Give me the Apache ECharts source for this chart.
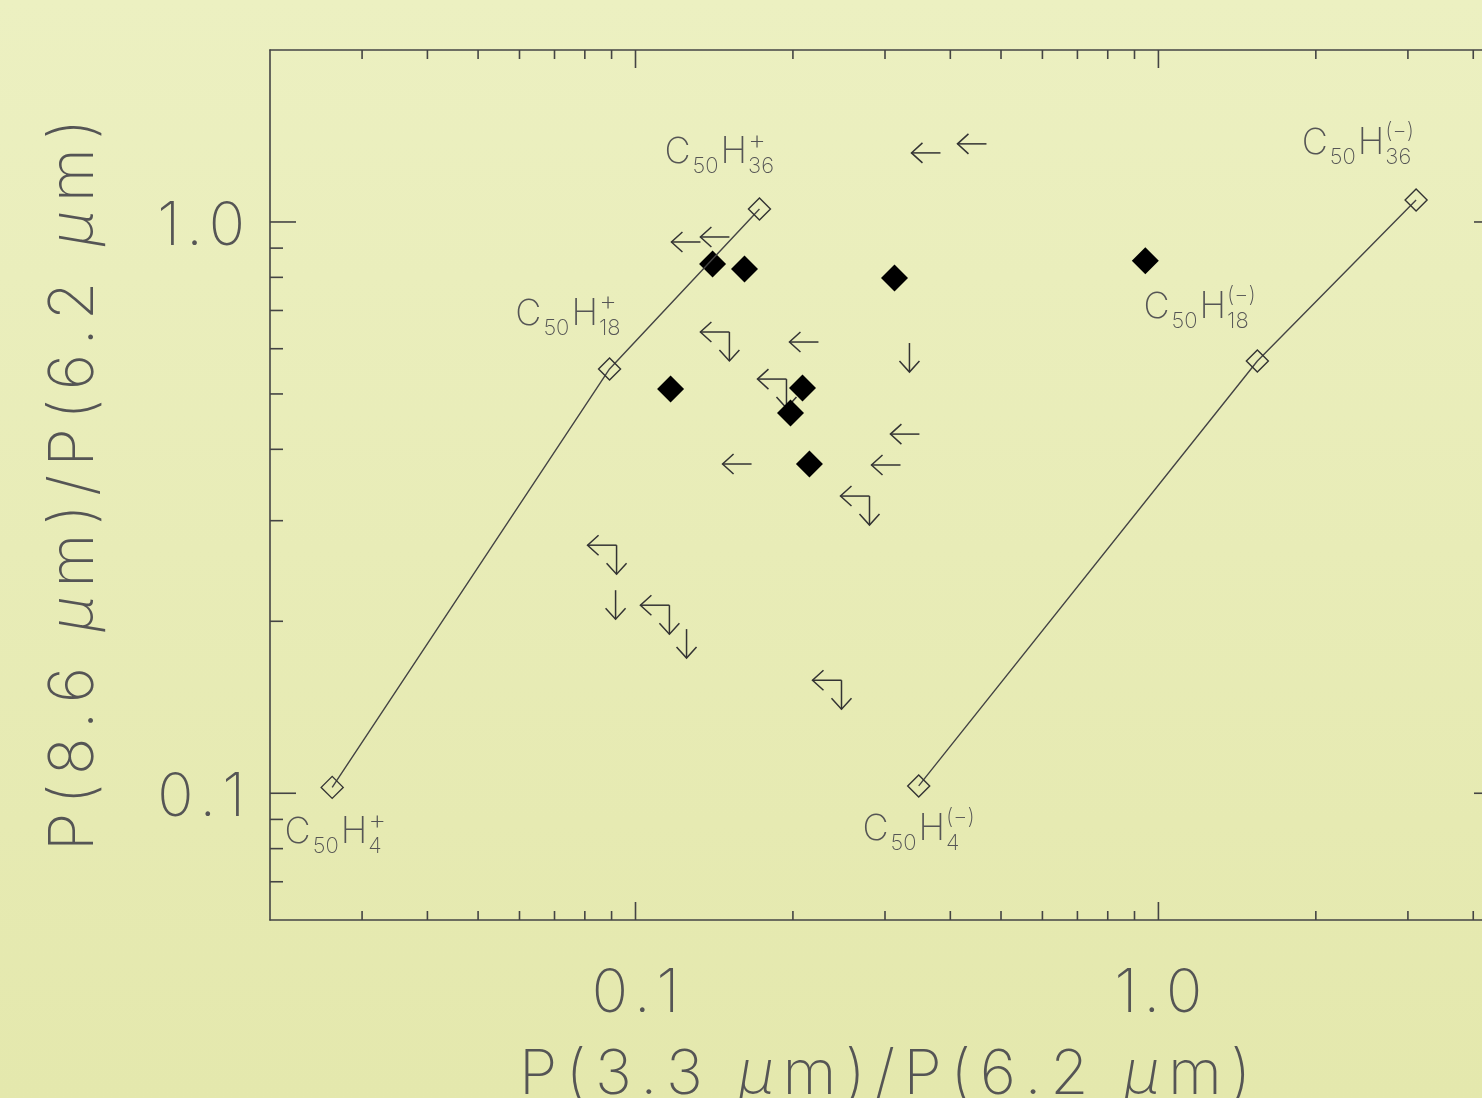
<!DOCTYPE html>
<html>
<head>
<meta charset="utf-8">
<script src="https://cdn.jsdelivr.net/npm/echarts@6/dist/echarts.min.js"></script>
<style>
html,body{margin:0;padding:0;overflow:hidden;width:1482px;height:1098px;
background:linear-gradient(#ecf0c1,#e4e8ad);}
#c{width:1510px;height:1098px;}
</style>
</head>
<body>
<div id="c"></div>
<script>
// ---- data ----
const modelCationX = [0.0263, 0.0892, 0.1726];
const modelCationY = [0.1024, 0.553, 1.054];
const modelAnionX = [0.348, 1.546, 3.11];
const modelAnionY = [0.103, 0.571, 1.093];

const detectX = [0.1404, 0.1616, 0.3128, 0.1167, 0.2086, 0.1979, 0.2151, 0.944];
const detectY = [0.844, 0.827, 0.798, 0.510, 0.512, 0.463, 0.377, 0.855];

// upper limits in x only (left arrows)
const xLimitX = [0.383, 0.469, 0.1331, 0.1512, 0.2238, 0.3491, 0.1667, 0.3212];
const xLimitY = [1.321, 1.370, 0.9225, 0.9413, 0.6164, 0.4253, 0.377, 0.3755];
// upper limits in y only (down arrows)
const yLimitX = [0.3341, 0.0916, 0.1252];
const yLimitY = [0.6139, 0.2267, 0.1938];
// upper limits in both
const bothLimitX = [0.1512, 0.1944, 0.2802, 0.0920, 0.1161, 0.2477];
const bothLimitY = [0.6418, 0.5309, 0.3313, 0.2718, 0.2134, 0.1577];

// model labels: anchor (data coords), H count, charge
const labelX = [0.1136, 0.0589, 0.02133, 0.2716, 0.936, 1.879];
const labelY = [1.323, 0.690, 0.0855, 0.0865, 0.710, 1.375];
const labelH = ['36', '18', '4', '4', '18', '36'];
const labelCharge = ['+', '+', '+', '(\u2212)', '(\u2212)', '(\u2212)'];

// axes
const xMin = 0.02, xMax = 4.5, yMin = 0.06, yMax = 2;
const xMajorTicks = [0.1, 1];
const xMajorLabels = ['0.1', '1.0'];
const xMinorTicks = [0.03,0.04,0.05,0.06,0.07,0.08,0.09,0.2,0.3,0.4,0.5,0.6,0.7,0.8,0.9,2,3,4];
const yMajorTicks = [0.1, 1];
const yMajorLabels = ['0.1', '1.0'];
const yMinorTicks = [0.07,0.08,0.09,0.2,0.3,0.4,0.5,0.6,0.7,0.8,0.9];
const xTitle = 'P(3.3 \u03bcm)/P(6.2 \u03bcm)';
const yTitle = 'P(8.6 \u03bcm)/P(6.2 \u03bcm)';

// ---- styles ----
const FONT = 'Inter, Lato, "DejaVu Sans", sans-serif';
const FW = 200;
const TXT = '#555';
const AX = '#444';

// wrap every character in a rich token so that it can be letter-spaced
function spaced(text) {
  let out = '';
  for (const ch of text) {
    if (ch === '\u03bc') out += '{mu|\u03bc}';
    else out += '{s|' + ch + '}';
  }
  return out;
}

const chart = echarts.init(document.getElementById('c'), null, {renderer: 'canvas'});

function labelFor(vals, texts) {
  return function (v) {
    for (let i = 0; i < vals.length; i++) {
      if (Math.abs(Math.log10(v) - Math.log10(vals[i])) < 1e-6) return spaced(texts[i]);
    }
    return '';
  };
}

function xTickRender(len) {
  return function (params, api) {
    const cs = params.coordSys;
    const px = api.coord([api.value(0), 1])[0];
    const st = {stroke: AX, lineWidth: 1.6};
    return {type: 'group', children: [
      {type: 'line', shape: {x1: px, y1: cs.y + cs.height, x2: px, y2: cs.y + cs.height - len}, style: st},
      {type: 'line', shape: {x1: px, y1: cs.y, x2: px, y2: cs.y + len}, style: st}
    ]};
  };
}
function yTickRender(len) {
  return function (params, api) {
    const cs = params.coordSys;
    const py = api.coord([1, api.value(1)])[1];
    const st = {stroke: AX, lineWidth: 1.6};
    return {type: 'group', children: [
      {type: 'line', shape: {x1: cs.x, y1: py, x2: cs.x + len, y2: py}, style: st},
      {type: 'line', shape: {x1: cs.x + cs.width, y1: py, x2: cs.x + cs.width - len, y2: py}, style: st}
    ]};
  };
}

function arrowRender(left, down) {
  return function (params, api) {
    const p = api.coord([api.value(0), api.value(1)]);
    const L = 29, B = 11, S = 10;
    const st = {stroke: '#333', lineWidth: 1.5, fill: null};
    const ch = [];
    if (left) {
      ch.push({type: 'polyline', shape: {points: [[p[0], p[1]], [p[0] - L, p[1]]]}, style: st});
      ch.push({type: 'polyline', shape: {points: [[p[0] - L + B, p[1] - S], [p[0] - L, p[1]], [p[0] - L + B, p[1] + S]]}, style: st});
    }
    if (down) {
      ch.push({type: 'polyline', shape: {points: [[p[0], p[1]], [p[0], p[1] + L]]}, style: st});
      ch.push({type: 'polyline', shape: {points: [[p[0] - S, p[1] + L - B], [p[0], p[1] + L], [p[0] + S, p[1] + L - B]]}, style: st});
    }
    return {type: 'group', children: ch};
  };
}

const mctx = document.createElement('canvas').getContext('2d');
function tw(text, size) {
  mctx.font = FW + ' ' + size + 'px ' + FONT;
  return mctx.measureText(text).width;
}

function labelRender(params, api) {
  const i = params.dataIndex;
  const p = api.coord([api.value(0), api.value(1)]);
  const big = 36, small = 22;
  const base = {fill: TXT, fontFamily: FONT, fontWeight: FW, verticalAlign: 'middle', align: 'left'};
  let x = p[0];
  const y = p[1];
  const ch = [];
  ch.push({type: 'text', x: x, y: y, style: Object.assign({text: 'C', fontSize: big}, base)});
  x += tw('C', big) + 2;
  ch.push({type: 'text', x: x, y: y + 14, style: Object.assign({text: '50', fontSize: small}, base)});
  x += tw('50', small) + 2;
  ch.push({type: 'text', x: x, y: y, style: Object.assign({text: 'H', fontSize: big}, base)});
  x += tw('H', big) + 1;
  const charge = labelCharge[i];
  const chargeSize = charge === '+' ? 28 : small;
  ch.push({type: 'text', x: x, y: y - 12, style: Object.assign({text: charge, fontSize: chargeSize}, base)});
  ch.push({type: 'text', x: x, y: y + 14, style: Object.assign({text: labelH[i], fontSize: small}, base)});
  return {type: 'group', children: ch};
}

const zip = (a, b) => a.map((v, i) => [v, b[i]]);

const axisLine = {show: true, lineStyle: {color: AX, width: 1.6}};
const tickRich = {
  s: {fontSize: 60, color: TXT, fontFamily: FONT, fontWeight: FW, padding: [0, 3, 0, 3]},
  mu: {fontSize: 60, color: TXT, fontFamily: FONT, fontWeight: FW, padding: [0, 3, 0, 3], fontStyle: 'italic'}
};
const titleRich = {
  s: {fontSize: 62, color: TXT, fontFamily: FONT, fontWeight: FW, padding: [0, 4.3, 0, 4.3]},
  mu: {fontSize: 62, color: TXT, fontFamily: FONT, fontWeight: FW, padding: [0, 4.3, 0, 4.3], fontStyle: 'italic'}
};

const option = {
  animation: false,
  backgroundColor: {type: 'linear', x: 0, y: 0, x2: 0, y2: 1,
    colorStops: [{offset: 0, color: '#ecf0c1'}, {offset: 1, color: '#e4e8ad'}]},
  grid: {left: 270, top: 50, width: 1230, height: 870, containLabel: false, outerBoundsMode: 'none'},
  xAxis: [{
    type: 'log', logBase: 10, min: xMin, max: xMax, position: 'bottom',
    axisLine: axisLine, axisTick: {show: false}, splitLine: {show: false}, minorTick: {show: false},
    axisLabel: {formatter: labelFor(xMajorTicks, xMajorLabels), fontSize: 60, color: TXT,
      fontFamily: FONT, fontWeight: FW, margin: 44, rich: tickRich},
    name: spaced(xTitle), nameLocation: 'middle', nameGap: 124,
    nameTextStyle: {fontSize: 62, color: TXT, fontFamily: FONT, fontWeight: FW, rich: titleRich}
  }, {
    type: 'log', logBase: 10, min: xMin, max: xMax, position: 'top',
    axisLine: axisLine, axisTick: {show: false}, splitLine: {show: false}, axisLabel: {show: false}
  }],
  yAxis: [{
    type: 'log', logBase: 10, min: yMin, max: yMax, position: 'left',
    axisLine: axisLine, axisTick: {show: false}, splitLine: {show: false}, minorTick: {show: false},
    axisLabel: {formatter: labelFor(yMajorTicks, yMajorLabels), fontSize: 60, color: TXT,
      fontFamily: FONT, fontWeight: FW, margin: 22, padding: [10, 0, 0, 0], rich: tickRich},
    name: spaced(yTitle), nameLocation: 'middle', nameGap: 165, nameRotate: 90,
    nameTextStyle: {fontSize: 62, color: TXT, fontFamily: FONT, fontWeight: FW, rich: titleRich}
  }, {
    type: 'log', logBase: 10, min: yMin, max: yMax, position: 'right',
    axisLine: axisLine, axisTick: {show: false}, splitLine: {show: false}, axisLabel: {show: false}
  }],
  series: [
    {type: 'custom', name: 'xMajor', data: xMajorTicks.map(v => [v, 1]), renderItem: xTickRender(18), silent: true},
    {type: 'custom', name: 'xMinor', data: xMinorTicks.map(v => [v, 1]), renderItem: xTickRender(9), silent: true},
    {type: 'custom', name: 'yMajor', data: yMajorTicks.map(v => [1, v]), renderItem: yTickRender(26), silent: true},
    {type: 'custom', name: 'yMinor', data: yMinorTicks.map(v => [1, v]), renderItem: yTickRender(13), silent: true},
    {type: 'line', name: 'cation', data: zip(modelCationX, modelCationY), symbol: 'diamond', symbolSize: 22,
      showSymbol: true, lineStyle: {color: '#444', width: 1.4},
      itemStyle: {color: 'rgba(0,0,0,0)', borderColor: '#333', borderWidth: 1.4}},
    {type: 'line', name: 'anion', data: zip(modelAnionX, modelAnionY), symbol: 'diamond', symbolSize: 22,
      showSymbol: true, lineStyle: {color: '#444', width: 1.4},
      itemStyle: {color: 'rgba(0,0,0,0)', borderColor: '#333', borderWidth: 1.4}},
    {type: 'scatter', name: 'detections', data: zip(detectX, detectY), symbol: 'diamond', symbolSize: 27,
      itemStyle: {color: '#000', opacity: 1}},
    {type: 'custom', name: 'xLimits', data: zip(xLimitX, xLimitY), renderItem: arrowRender(true, false)},
    {type: 'custom', name: 'yLimits', data: zip(yLimitX, yLimitY), renderItem: arrowRender(false, true)},
    {type: 'custom', name: 'bothLimits', data: zip(bothLimitX, bothLimitY), renderItem: arrowRender(true, true)},
    {type: 'custom', name: 'labels', data: zip(labelX, labelY), renderItem: labelRender}
  ]
};
chart.setOption(option);
</script>
</body>
</html>
